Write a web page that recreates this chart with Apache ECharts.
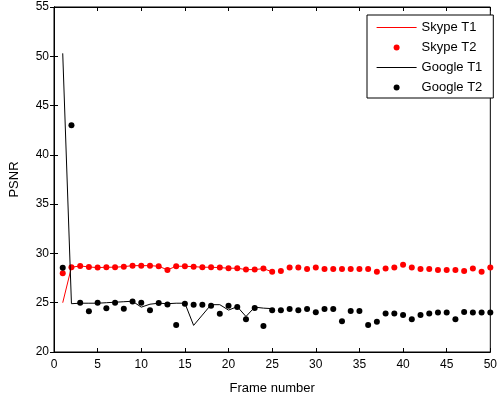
<!DOCTYPE html>
<html>
<head>
<meta charset="utf-8">
<script src="https://cdn.jsdelivr.net/npm/echarts@6/dist/echarts.min.js"></script>
<style>
html, body { margin: 0; padding: 0; background: #fff; }
#chart { width: 500px; height: 400px; }
</style>
</head>
<body>
<div id="chart"></div>
<script>
var frames = [1, 2, 3, 4, 5, 6, 7, 8, 9, 10, 11, 12, 13, 14, 15, 16, 17, 18, 19, 20, 21, 22, 23, 24, 25,
	26, 27, 28, 29, 30, 31, 32, 33, 34, 35, 36, 37, 38, 39, 40, 41, 42, 43, 44, 45, 46, 47, 48, 49, 50];

// T1 runs over the first 25 frames only
var skypeT1 = [25.0, 28.6, 28.73, 28.63, 28.56, 28.6, 28.6, 28.66, 28.76, 28.76, 28.76, 28.7, 28.33,
	28.7, 28.7, 28.66, 28.6, 28.6, 28.56, 28.5, 28.5, 28.36, 28.36, 28.46, 28.13];
var skypeT2 = [28.0, 28.6, 28.73, 28.63, 28.56, 28.6, 28.6, 28.66, 28.76, 28.76, 28.76, 28.7, 28.33,
	28.7, 28.7, 28.66, 28.6, 28.6, 28.56, 28.5, 28.5, 28.36, 28.36, 28.46, 28.13,
	28.23, 28.56, 28.56, 28.43, 28.56, 28.43, 28.43, 28.43, 28.43, 28.43, 28.43, 28.13,
	28.48, 28.56, 28.86, 28.56, 28.43, 28.43, 28.33, 28.33, 28.33, 28.23, 28.46, 28.13, 28.56];
var googleT1 = [50.3, 24.9, 24.95, 24.95, 24.95, 25.0, 25.05, 25.1, 25.15, 24.55, 24.85, 24.95, 24.9,
	24.95, 24.95, 22.7, 23.75, 24.8, 24.8, 24.25, 24.6, 23.6, 24.55, 24.45, 24.4];
var googleT2 = [28.55, 43.0, 25.0, 24.13, 25.0, 24.43, 25.0, 24.4, 25.13, 25.0, 24.23, 24.97, 24.83,
	22.73, 24.9, 24.8, 24.8, 24.7, 23.87, 24.7, 24.56, 23.33, 24.46, 22.63, 24.23,
	24.23, 24.36, 24.23, 24.36, 24.03, 24.36, 24.36, 23.13, 24.16, 24.16, 22.73, 23.06,
	23.9, 23.9, 23.76, 23.33, 23.76, 23.9, 24.0, 24.0, 23.33, 24.06, 24.0, 24.0, 24.0];

var xTicks = { min: 0, max: 50, interval: 5 };
var yTicks = { min: 20, max: 55, interval: 5 };

function pairs(vals) {
	return vals.map(function (v, i) { return [frames[i], v]; });
}

var font = "'Liberation Sans', Arial, sans-serif";
var red = '#ff0000';

var chart = echarts.init(document.getElementById('chart'));

var option = {
	animation: false,
	grid: {
		left: 50, right: 7, top: 7, bottom: 43,
		show: true, borderColor: '#000', borderWidth: 1
	},
	legend: {
		orient: 'vertical',
		left: 367, top: 15,
		padding: [6, 11, 4, 9],
		itemWidth: 40, itemHeight: 6, itemGap: 7,
		backgroundColor: '#fff',
		borderColor: '#000', borderWidth: 1, borderRadius: 0,
		textStyle: { fontFamily: font, fontSize: 13, color: '#000' },
		data: [
			// hide the marker the line icon draws in its middle
			{ name: 'Skype T1', itemStyle: { opacity: 0 }, lineStyle: { color: red, width: 1.2 } },
			{ name: 'Skype T2', icon: 'circle', itemStyle: { color: red } },
			{ name: 'Google T1', itemStyle: { opacity: 0 }, lineStyle: { color: '#000', width: 1 } },
			{ name: 'Google T2', icon: 'circle', itemStyle: { color: '#000' } }
		]
	},
	xAxis: [
		{
			type: 'value', min: xTicks.min, max: xTicks.max, interval: xTicks.interval,
			name: 'Frame number', nameLocation: 'middle', nameGap: 30,
			nameTextStyle: { fontFamily: font, fontSize: 13, color: '#000' },
			axisLine: { lineStyle: { color: '#000' } },
			axisTick: { inside: true, length: 4, lineStyle: { color: '#000' } },
			axisLabel: { fontFamily: font, fontSize: 12, color: '#000', margin: 7 },
			splitLine: { show: false }
		},
		{
			type: 'value', position: 'top', min: xTicks.min, max: xTicks.max, interval: xTicks.interval,
			axisLine: { lineStyle: { color: '#000' } },
			axisTick: { inside: true, length: 4, lineStyle: { color: '#000' } },
			axisLabel: { show: false },
			splitLine: { show: false }
		}
	],
	yAxis: [
		{
			type: 'value', min: yTicks.min, max: yTicks.max, interval: yTicks.interval,
			name: 'PSNR', nameLocation: 'middle', nameGap: 33,
			nameTextStyle: { fontFamily: font, fontSize: 13, color: '#000' },
			axisLine: { show: true, lineStyle: { color: '#000' } },
			axisTick: { show: true, inside: true, length: 4, lineStyle: { color: '#000' } },
			axisLabel: { fontFamily: font, fontSize: 12, color: '#000', margin: 5 },
			splitLine: { show: false }
		},
		{
			type: 'value', position: 'right', min: yTicks.min, max: yTicks.max, interval: yTicks.interval,
			axisLine: { show: true, lineStyle: { color: '#000' } },
			axisTick: { show: true, inside: true, length: 4, lineStyle: { color: '#000' } },
			axisLabel: { show: false },
			splitLine: { show: false }
		}
	],
	series: [
		{
			name: 'Skype T1', type: 'line', data: pairs(skypeT1),
			symbol: 'none', color: red,
			lineStyle: { width: 1, color: red }
		},
		{
			name: 'Skype T2', type: 'scatter', data: pairs(skypeT2),
			symbol: 'circle', symbolSize: 6, color: red,
			itemStyle: { color: red, opacity: 1 }
		},
		{
			name: 'Google T1', type: 'line', data: pairs(googleT1),
			symbol: 'none', color: '#000',
			lineStyle: { width: 1, color: '#000' }
		},
		{
			name: 'Google T2', type: 'scatter', data: pairs(googleT2),
			symbol: 'circle', symbolSize: 6, color: '#000',
			itemStyle: { color: '#000', opacity: 1 }
		}
	]
};

chart.setOption(option);
</script>
</body>
</html>
